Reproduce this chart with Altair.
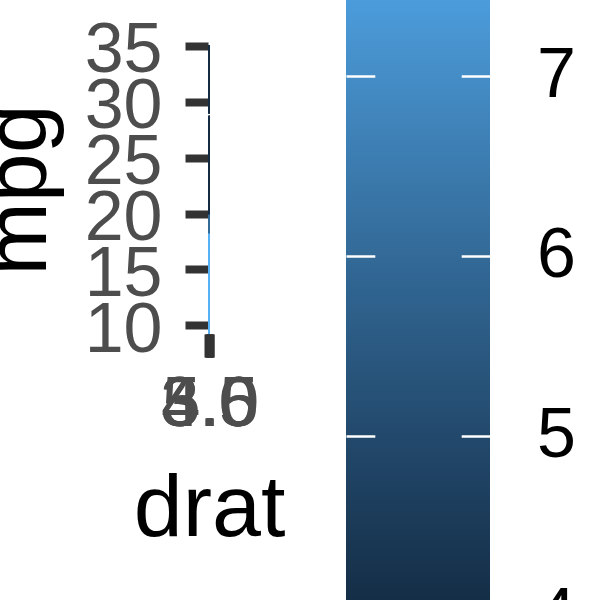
import altair as alt
import pandas as pd

# mtcars columns used by the chart
mpg = [21.0, 21.0, 22.8, 21.4, 18.7, 18.1, 14.3, 24.4, 22.8, 19.2, 17.8, 16.4, 17.3, 15.2, 10.4, 10.4,
       14.7, 32.4, 30.4, 33.9, 21.5, 15.5, 15.2, 13.3, 19.2, 27.3, 26.0, 30.4, 15.8, 19.7, 15.0, 21.4]
cyl = [6, 6, 4, 6, 8, 6, 8, 4, 4, 6, 6, 8, 8, 8, 8, 8, 8, 4, 4, 4, 4, 8, 8, 8, 8, 4, 4, 4, 8, 6, 8, 4]
drat = [3.90, 3.90, 3.85, 3.08, 3.15, 2.76, 3.21, 3.69, 3.92, 3.92, 3.92, 3.07, 3.07, 3.07, 2.93, 3.00,
        3.23, 4.08, 4.93, 4.22, 3.70, 2.76, 3.15, 3.73, 3.08, 4.08, 4.43, 3.77, 4.22, 3.62, 3.54, 4.11]

x_ticks = [3.0, 3.5, 4.0, 4.5, 5.0]
y_ticks = [10, 15, 20, 25, 30, 35]
cyl_breaks = [4, 5, 6, 7, 8]
low_col, high_col = "#132B43", "#56B1F7"

df = pd.DataFrame({"mpg": mpg, "cyl": cyl, "drat": drat})
ticks_df = pd.DataFrame({"cyl": cyl_breaks})

FONT = "Liberation Sans"
PAD_L, PAD_T = 208, 45
PLOT_W, PLOT_H = 2, 289
BAR_X, BAR_W = 346 - PAD_L, 144
BAR_TOP, BAR_LEN = -149, 720
TITLE_SIZE, TITLE_PAD = 88, 20

x_dom = [min(drat) - 0.05 * (max(drat) - min(drat)), max(drat) + 0.05 * (max(drat) - min(drat))]
y_dom = [min(mpg) - 0.05 * (max(mpg) - min(mpg)), max(mpg) + 0.05 * (max(mpg) - min(mpg))]

axis_common = dict(
    labelFont=FONT, labelFontSize=70, labelColor="#4D4D4D",
    titleFont=FONT, titleFontSize=TITLE_SIZE, titleColor="black", titleFontWeight="normal",
    tickSize=23, tickWidth=8, tickColor="#333333", domain=False, grid=False,
    labelOverlap=False, labelFlush=False, labelBound=False,
    titleBaseline="alphabetic", titleAlign="center",
)

points = alt.Chart(df).mark_circle(size=1100, opacity=1, clip=True).encode(
    x=alt.X("drat:Q", scale=alt.Scale(domain=x_dom, nice=False, zero=False),
            axis=alt.Axis(values=x_ticks, format=".1f", title="drat", labelPadding=13,
                          titleX=PLOT_W / 2, titleY=201, **axis_common)),
    y=alt.Y("mpg:Q", scale=alt.Scale(domain=y_dom, nice=False, zero=False),
            axis=alt.Axis(values=y_ticks, title="mpg", labelPadding=23, labelOffset=5,
                          titleX=45 - PAD_L, titleY=PLOT_H / 2, titleAngle=270, **axis_common)),
    color=alt.Color("cyl:Q",
                    scale=alt.Scale(domain=[3.9999, 8.0001], range=[low_col, high_col], interpolate="lab"),
                    legend=alt.Legend(title="cyl", orient="none", legendX=BAR_X,
                                      legendY=BAR_TOP - TITLE_SIZE - TITLE_PAD,
                                      direction="vertical", gradientLength=BAR_LEN,
                                      gradientThickness=BAR_W, gradientStrokeWidth=0,
                                      values=cyl_breaks, format="d", labelFont=FONT, labelFontSize=70,
                                      labelColor="black", labelOffset=47, labelBaseline="middle",
                                      labelOverlap=False, titleFont=FONT, titleFontSize=TITLE_SIZE,
                                      titleFontWeight="normal", titleColor="black",
                                      titlePadding=TITLE_PAD, padding=0, zindex=0)),
)

# white colourbar ticks, drawn as axes over the cyl breaks (axes sit above the legend)
tick_scale = alt.Scale(domain=[4, 8], range=[BAR_TOP + BAR_LEN, BAR_TOP])
tick_axis = dict(values=cyl_breaks, labels=False, domain=False, grid=False, title=None,
                 tickColor="white", tickWidth=2.5, tickSize=BAR_W / 5, zindex=2)

left_ticks = alt.Chart(ticks_df).mark_rule(opacity=0).encode(
    x=alt.value(BAR_X), x2=alt.value(BAR_X + BAR_W / 5),
    y=alt.Y("cyl:Q", scale=tick_scale,
            axis=alt.Axis(orient="right", offset=BAR_X - PLOT_W, **tick_axis)))
right_ticks = alt.Chart(ticks_df).mark_rule(opacity=0).encode(
    x=alt.value(BAR_X + BAR_W * 4 / 5), x2=alt.value(BAR_X + BAR_W),
    y=alt.Y("cyl:Q", scale=tick_scale,
            axis=alt.Axis(orient="left", offset=-(BAR_X + BAR_W), **tick_axis)))

chart = alt.layer(points, left_ticks, right_ticks).resolve_scale(y="independent").properties(
    width=PLOT_W, height=PLOT_H,
    padding={"left": PAD_L, "top": PAD_T, "right": 600 - PAD_L - PLOT_W, "bottom": 600 - PAD_T - PLOT_H},
    autosize=alt.AutoSizeParams(type="none"),
    background="white",
).configure_view(strokeWidth=0)

chart.save("out.html", embed_options={"renderer": "svg", "actions": False})
